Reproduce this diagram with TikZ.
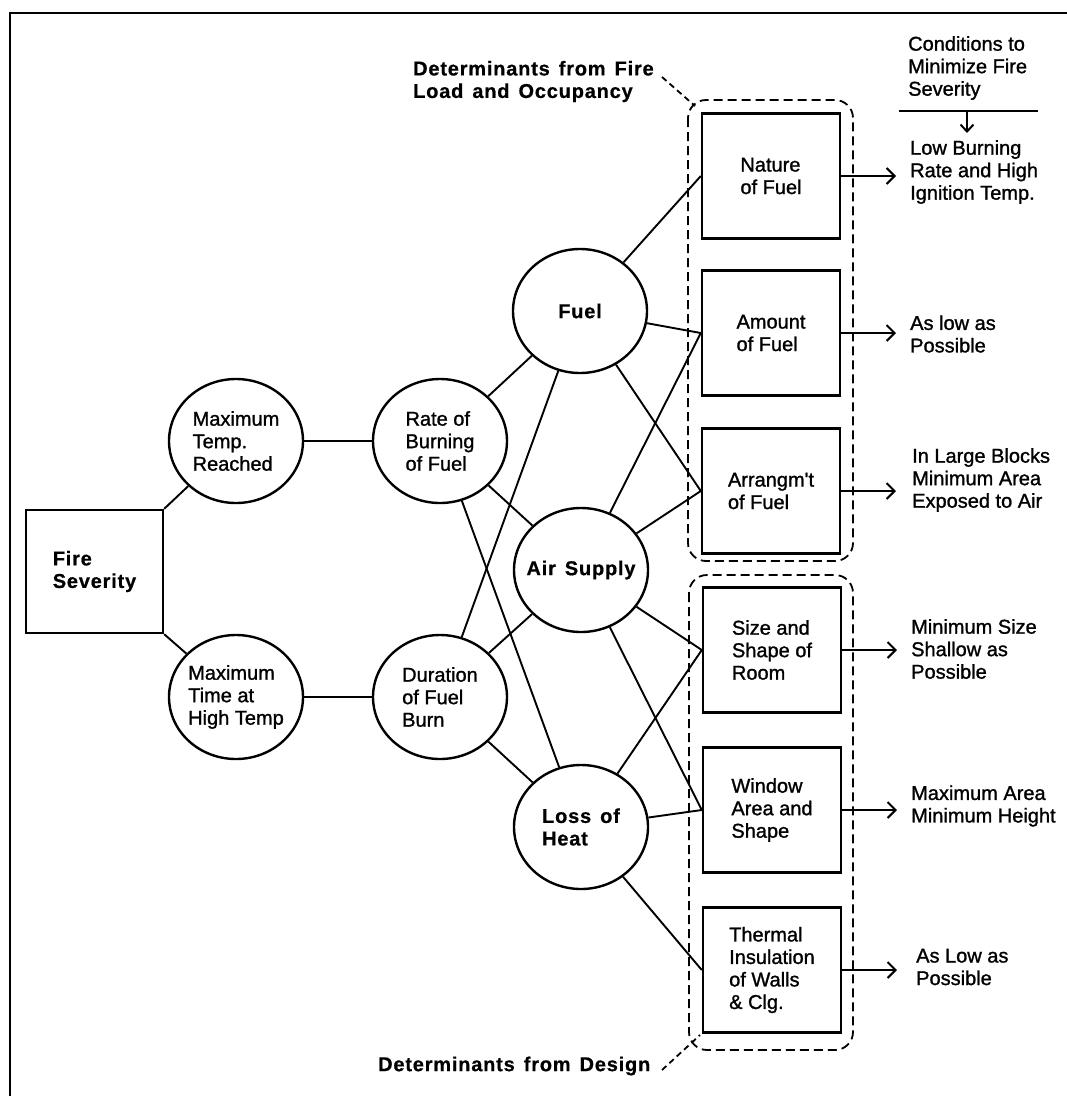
\documentclass[tikz,border=0pt]{standalone}
\usepackage{fontspec}
\setmainfont{Liberation Sans}
\newfontfamily\txtfont[FakeBold=1.2]{Liberation Sans}
\newfontfamily\hdfont[LetterSpace=4,FakeBold=0.6]{Liberation Sans Bold}
\usetikzlibrary{shapes.geometric,arrows.meta}
\newcommand\wgap{\hspace{.45em}}
\tikzset{
  txt/.style={font=\txtfont\fontsize{20}{22.5}\selectfont,align=left},
  hd/.style={font=\hdfont\fontsize{20}{22.5}\selectfont,align=left},
  note/.style={txt,inner sep=0pt,anchor=west},
  blob/.style={draw,ellipse,line width=2.4pt,minimum width=134pt,minimum height=124pt,inner sep=-10pt},
  fact/.style={draw,rectangle,line width=2.4pt,minimum width=138pt,minimum height=125pt,inner sep=0pt},
  wire/.style={line width=1.9pt},
  goal/.style={line width=2pt,-{Straight Barb[length=8pt,width=16pt,line width=2pt]}},
  grpbox/.style={line width=1.8pt,dash pattern=on 9pt off 5pt,rounded corners=18pt},
  leader/.style={line width=1.8pt,dash pattern=on 6pt off 4pt}
}
\begin{document}
\begin{tikzpicture}[x=1pt,y=-1pt]
\useasboundingbox (0,0) rectangle (1067,1096);
\draw[line width=2.4pt] (10,1096) -- (10,13) -- (1067,13);

% left part of the tree
\node[fact,hd,minimum width=137pt,minimum height=123pt] (fire) at (94.5,571.5) {Fire\\Severity};
\node[blob,txt] (temp) at (236,441) {Maximum\\Temp.\\Reached};
\node[blob,txt] (time) at (236,697) {Maximum\\Time at\\High Temp};
\node[blob,txt] (rate) at (440,441) {Rate of\\Burning\\of Fuel};
\node[blob,txt] (dur) at (440,697) {Duration\\of Fuel\\Burn};
\node[blob,hd] (fuel) at (580,311) {Fuel};
\node[blob,hd] (air) at (581,570) {Air\wgap Supply};
\node[blob,hd] (loss) at (581,827) {Loss\wgap of\\Heat};

% determinants
\node[fact,txt] (nature) at (771,176) {Nature\\of Fuel};
\node[fact,txt] (amount) at (771,333) {Amount\\of Fuel};
\node[fact,txt] (arrange) at (771,491) {Arrangm't\\of Fuel};
\node[fact,txt] (room) at (772,650) {Size and\\Shape of\\Room};
\node[fact,txt] (window) at (772,810) {Window\\Area and\\Shape};
\node[fact,txt] (insul) at (772,970) {Thermal\\Insulation\\of Walls\\\& Clg.};

\draw[wire] (fire.north east) -- (temp);
\draw[wire] (fire.south east) -- (time);
\draw[wire] (temp) -- (rate);
\draw[wire] (time) -- (dur);
\draw[wire] (rate) -- (fuel);
\draw[wire] (rate) -- (air);
\draw[wire] (rate) -- (loss);
\draw[wire] (dur) -- (fuel);
\draw[wire] (dur) -- (air);
\draw[wire] (dur) -- (loss);
\draw[wire] (fuel) -- (nature.west);
\draw[wire] (fuel) -- (amount.west);
\draw[wire] (fuel) -- (arrange.west);
\draw[wire] (air) -- (amount.west);
\draw[wire] (air) -- (arrange.west);
\draw[wire] (air) -- (room.west);
\draw[wire] (air) -- (window.west);
\draw[wire] (loss) -- (room.west);
\draw[wire] (loss) -- (window.west);
\draw[wire] (loss) -- (insul.west);

% dashed groups and their labels
\draw[grpbox] (688,100) rectangle (853,561);
\draw[grpbox] (689,575) rectangle (853,1050);
\node[hd,anchor=west,inner sep=0pt] (loadlbl) at (413,81.5) {Determinants\wgap from\wgap Fire\\Load\wgap and\wgap Occupancy};
\node[hd,anchor=west,inner sep=0pt] (designlbl) at (378,1066) {Determinants\wgap from\wgap Design};
\coordinate (loadend) at (662,77);
\coordinate (loadtip) at (695,106);
\coordinate (designend) at (662,1070);
\coordinate (designtip) at (700,1035);
\draw[leader] (loadend) -- (loadtip);
\draw[leader] (designend) -- (designtip);

% conditions column
\node[note] (cond) at (908,68) {Conditions to\\Minimize Fire\\Severity};
\coordinate (condl) at (899,111);
\coordinate (condr) at (1038,111);
\coordinate (condtop) at (967,111);
\coordinate (condbot) at (967,133);
\draw[line width=2.4pt] (condl) -- (condr);
\draw[line width=2pt,-{Straight Barb[length=7pt,width=13pt,line width=2pt]}] (condtop) -- (condbot);

\coordinate (natureto) at (896,176);
\coordinate (amountto) at (896,333);
\coordinate (arrangeto) at (896,491);
\coordinate (roomto) at (897,650);
\coordinate (windowto) at (897,810);
\coordinate (insulto) at (897,970);
\draw[goal] (nature.east) -- (natureto);
\draw[goal] (amount.east) -- (amountto);
\draw[goal] (arrange.east) -- (arrangeto);
\draw[goal] (room.east) -- (roomto);
\draw[goal] (window.east) -- (windowto);
\draw[goal] (insul.east) -- (insulto);

\node[note] (natureaim) at (910,172) {Low Burning\\Rate and High\\Ignition Temp.};
\node[note] (amountaim) at (910,334) {As low as\\Possible};
\node[note] (arrangeaim) at (912,480) {In Large Blocks\\Minimum Area\\Exposed to Air};
\node[note] (roomaim) at (911,649) {Minimum Size\\Shallow as\\Possible};
\node[note] (windowaim) at (911,806) {Maximum Area\\Minimum Height};
\node[note] (insulaim) at (916,967) {As Low as\\Possible};
\end{tikzpicture}
\end{document}
